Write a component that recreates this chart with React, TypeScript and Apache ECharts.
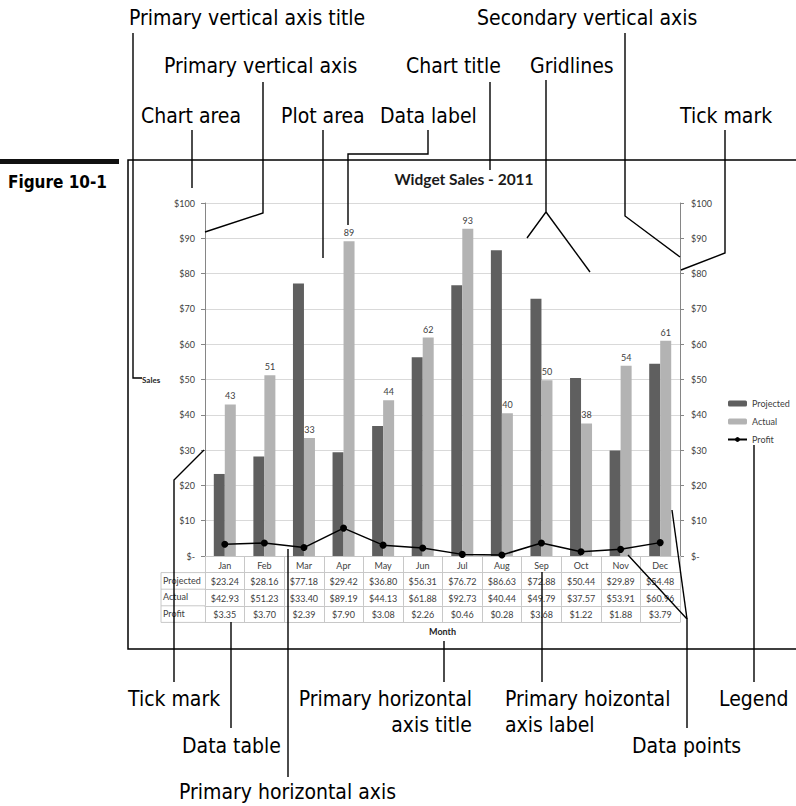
import React, { useEffect, useRef } from "react";
import * as echarts from "echarts";

// ---- data ----
const months = ["Jan", "Feb", "Mar", "Apr", "May", "Jun", "Jul", "Aug", "Sep", "Oct", "Nov", "Dec"];
const projected = [23.24, 28.16, 77.18, 29.42, 36.8, 56.31, 76.72, 86.63, 72.88, 50.44, 29.89, 54.48];
const actual = [42.93, 51.23, 33.4, 89.19, 44.13, 61.88, 92.73, 40.44, 49.79, 37.57, 53.91, 60.96];
const profit = [3.35, 3.7, 2.39, 7.9, 3.08, 2.26, 0.46, 0.28, 3.68, 1.22, 1.88, 3.79];
const seriesNames = ["Projected", "Actual", "Profit"];
const yMin = 0;
const yMax = 100;
const yStep = 10;
const chartTitle = "Widget Sales - 2011";
const yAxisTitle = "Sales";
const xAxisTitle = "Month";
const figureLabel = "Figure 10-1";

export default function App() {
  const ref = useRef<HTMLDivElement>(null);

  useEffect(() => {
    const el = ref.current;
    if (!el) return;
    const chart = echarts.init(el, null, { renderer: "svg" });

    const FONT = "Lato";
    const ANN = '"DejaVu Sans Condensed", "Liberation Sans", sans-serif';
    const TXT = "#404040";
    const TLINE = "#c8c8c8";
    const RH = 16.6;
    const money = (v: number) => "$" + v.toFixed(2);
    const axisMoney = (v: number) => (v === 0 ? "$-" : "$" + v);

    const rows: { name: string; fmt: (v: string, i: number) => string }[] = [
      { name: "", fmt: (_v, i) => months[i] },
      { name: seriesNames[0], fmt: (_v, i) => money(projected[i]) },
      { name: seriesNames[1], fmt: (_v, i) => money(actual[i]) },
      { name: seriesNames[2], fmt: (_v, i) => money(profit[i]) },
    ];

    const xAxes: any[] = rows.map((r, k) => ({
      type: "category",
      data: months,
      gridIndex: 0,
      position: "bottom",
      offset: k * RH,
      boundaryGap: true,
      axisLine: { show: true, onZero: false, lineStyle: { color: TLINE, width: 1 } },
      axisTick: { show: true, interval: 0, length: RH, alignWithLabel: false, lineStyle: { color: TLINE, width: 1 } },
      axisLabel: { show: true, interval: 0, margin: 4.5, formatter: r.fmt, fontSize: 9, color: TXT, fontFamily: FONT },
      splitLine: { show: false },
      name: r.name,
      nameLocation: "start",
      nameGap: 42,
      nameTextStyle: { align: "left", verticalAlign: "top", padding: [3, 0, 0, 0], fontSize: 9, color: TXT, fontFamily: FONT },
    }));
    xAxes.push({
      type: "category",
      data: months,
      gridIndex: 0,
      position: "bottom",
      offset: 4 * RH,
      axisLine: { show: true, onZero: false, lineStyle: { color: TLINE, width: 1 } },
      axisTick: { show: false },
      axisLabel: { show: false },
      splitLine: { show: false },
      name: xAxisTitle,
      nameLocation: "middle",
      nameGap: 5,
      nameTextStyle: { fontSize: 9, fontWeight: "bold", color: "#262626", fontFamily: FONT, verticalAlign: "top" },
    });

    const yAxisBase = {
      type: "value",
      min: yMin,
      max: yMax,
      interval: yStep,
      axisLine: { show: true, lineStyle: { color: "#868686", width: 1 } },
      axisTick: { show: true, length: 4, lineStyle: { color: "#868686" } },
      axisLabel: { formatter: axisMoney, fontSize: 9, color: TXT, fontFamily: FONT, margin: 10 },
    };

    const leaderLines: number[][][] = [
      [[133, 33], [133, 378], [142, 378]],
      [[263, 82], [263, 213], [205, 232]],
      [[192, 130], [192, 188]],
      [[323, 130], [323, 258]],
      [[428, 130], [428, 154], [348, 154], [348, 225]],
      [[490, 82], [490, 170]],
      [[546, 80], [546, 212], [527, 238]],
      [[546, 212], [590, 272]],
      [[625, 33], [625, 216], [680, 257]],
      [[725, 130], [725, 253], [681, 270]],
      [[174, 682], [174, 480], [204, 450]],
      [[231, 728], [231, 622]],
      [[288, 777], [288, 549]],
      [[444, 682], [444, 641]],
      [[542, 682], [542, 572]],
      [[687, 728], [687, 619], [628, 555]],
      [[687, 619], [672, 510]],
      [[754, 682], [754, 445]],
    ];
    const calloutTexts: [string, number, number, string][] = [
      ["Primary vertical axis title", 129, 18, "left"],
      ["Primary vertical axis", 164, 66, "left"],
      ["Chart area", 141, 116, "left"],
      ["Plot area", 281, 116, "left"],
      ["Data label", 380, 116, "left"],
      ["Chart title", 406, 66, "left"],
      ["Gridlines", 530, 66, "left"],
      ["Secondary vertical axis", 477, 18, "left"],
      ["Tick mark", 680, 116, "left"],
      ["Tick mark", 128, 699, "left"],
      ["Data table", 182, 746, "left"],
      ["Primary horizontal axis", 179, 792, "left"],
      ["Primary horizontal", 472, 699, "right"],
      ["axis title", 472, 725, "right"],
      ["Primary hoizontal", 505, 699, "left"],
      ["axis label", 505, 725, "left"],
      ["Data points", 632, 746, "left"],
      ["Legend", 719, 699, "left"],
    ];

    const graphics: any[] = [];
    // figure tab
    graphics.push({ type: "rect", shape: { x: 0, y: 159, width: 119, height: 5 }, style: { fill: "#111" }, z: 100 });
    graphics.push({
      type: "text",
      x: 107,
      y: 182,
      style: { text: figureLabel, fill: "#000", fontSize: 17, fontWeight: "bold", fontFamily: ANN, align: "right", verticalAlign: "middle", textAlign: "right", textVerticalAlign: "middle" },
      z: 100,
    });
    // chart area frame
    graphics.push({ type: "polyline", shape: { points: [[796, 160], [128, 160], [128, 649], [796, 649]] }, style: { stroke: "#000", lineWidth: 1.5, fill: null }, z: 100 });
    // data table row-label column
    const tableTop = 556 + RH;
    graphics.push({ type: "line", shape: { x1: 161, y1: tableTop, x2: 161, y2: 556 + 4 * RH }, style: { stroke: TLINE, lineWidth: 1 }, z: 5 });
    for (let k = 1; k <= 4; k++) {
      graphics.push({ type: "line", shape: { x1: 161, y1: 556 + k * RH, x2: 205, y2: 556 + k * RH }, style: { stroke: TLINE, lineWidth: 1 }, z: 5 });
    }
    leaderLines.forEach((pts) => {
      graphics.push({ type: "polyline", shape: { points: pts }, style: { stroke: "#000", lineWidth: 1.4, fill: null }, z: 100 });
    });
    calloutTexts.forEach(([t, x, y, a]) => {
      graphics.push({
        type: "text",
        x,
        y,
        style: { text: t, fill: "#000", fontSize: 21, fontFamily: ANN, align: a, verticalAlign: "middle", textAlign: a, textVerticalAlign: "middle" },
        z: 100,
      });
    });

    chart.setOption({
      animation: false,
      backgroundColor: "#ffffff",
      textStyle: { fontFamily: FONT },
      title: {
        text: chartTitle,
        left: 464,
        top: 171,
        padding: 0,
        textAlign: "center",
        textStyle: { fontSize: 15.5, fontWeight: "bold", color: "#1a1a1a", fontFamily: FONT },
      },
      legend: {
        orient: "vertical",
        left: 727,
        top: 399,
        padding: 0,
        itemWidth: 19,
        itemHeight: 6,
        itemGap: 9,
        textStyle: { fontSize: 9, color: TXT, fontFamily: FONT },
        data: seriesNames,
      },
      grid: { left: 205, right: 116, top: 203, bottom: 250, containLabel: false },
      xAxis: xAxes,
      yAxis: [
        {
          ...yAxisBase,
          position: "left",
          splitLine: { show: true, lineStyle: { color: "#d9d9d9", width: 1 } },
          name: yAxisTitle,
          nameLocation: "middle",
          nameRotate: 0,
          nameGap: 63,
          nameTextStyle: { align: "left", verticalAlign: "middle", fontSize: 8, fontWeight: "bold", color: "#262626", fontFamily: FONT },
        },
        {
          ...yAxisBase,
          position: "right",
          axisLabel: { ...yAxisBase.axisLabel, margin: 11 },
          splitLine: { show: false },
        },
      ],
      series: [
        {
          name: seriesNames[0],
          type: "bar",
          data: projected,
          barWidth: 11,
          barGap: "0%",
          itemStyle: { color: "#5f5f5f" },
        },
        {
          name: seriesNames[1],
          type: "bar",
          data: actual,
          barWidth: 11,
          barGap: "0%",
          itemStyle: { color: "#b3b3b3" },
          label: {
            show: true,
            position: "top",
            distance: 4,
            formatter: (p: any) => String(Math.round(p.value)),
            fontSize: 9,
            color: TXT,
            fontFamily: FONT,
          },
        },
        {
          name: seriesNames[2],
          type: "line",
          yAxisIndex: 1,
          data: profit,
          symbol: "circle",
          symbolSize: 7,
          lineStyle: { color: "#000", width: 1.5 },
          itemStyle: { color: "#000" },
        },
      ],
      graphic: graphics,
    });

    return () => chart.dispose();
  }, []);

  return (
    <div
      ref={ref}
      style={{ position: "fixed", left: 0, top: 0, width: 796, height: 806, background: "#fff" }}
    />
  );
}
